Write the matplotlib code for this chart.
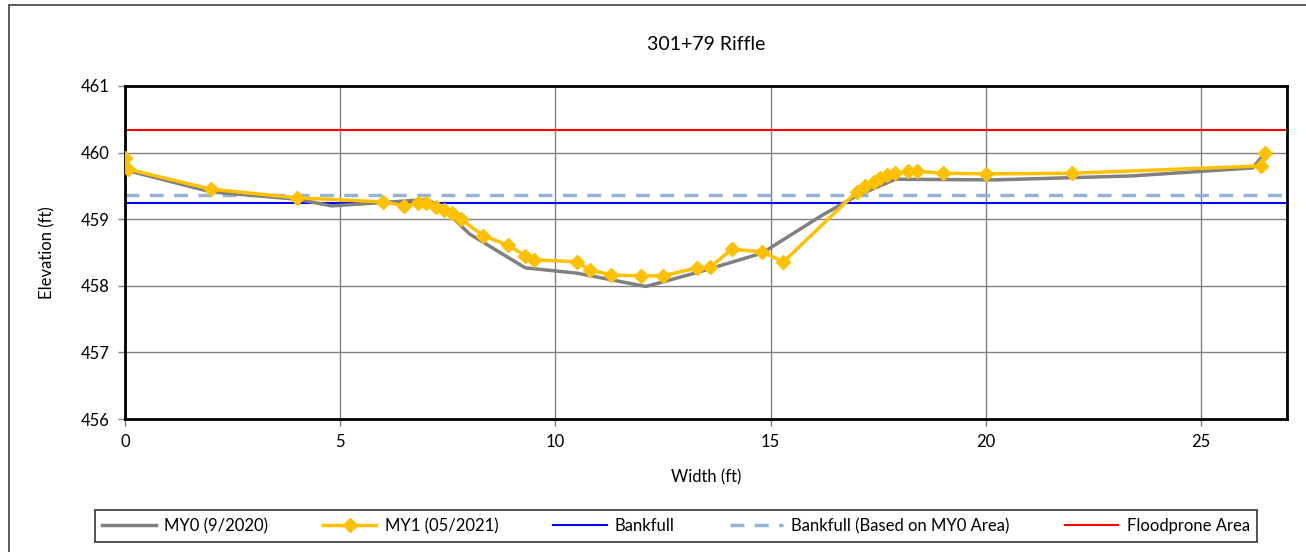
import matplotlib
matplotlib.use('Agg')
import matplotlib.pyplot as plt
from matplotlib.patches import Rectangle

plt.rcParams['font.family'] = ['Lato', 'DejaVu Sans']

# MY0 survey (9/2020)
my0_x = [0, 2.0, 4.0, 4.8, 6.9, 7.1, 7.5, 8.0, 9.3, 10.5, 12.1, 13.3, 14.8, 16.2, 17.0, 17.9, 20.2, 23.4, 26.2, 26.5]
my0_y = [459.74, 459.41, 459.3, 459.2, 459.29, 459.27, 459.1, 458.78, 458.27, 458.19, 457.99, 458.2, 458.49, 459.06,
         459.35, 459.6, 459.59, 459.65, 459.77, 460.0]

# MY1 survey (05/2021)
my1_x = [0, 0.07, 2.0, 4.0, 6.0, 6.49, 6.8, 7.0, 7.23, 7.42, 7.6, 7.8, 8.33, 8.9, 9.3, 9.5, 10.5, 10.8, 11.3, 12.0,
         12.5, 13.3, 13.6, 14.1, 14.8, 15.3, 17.0, 17.2, 17.4, 17.55, 17.7, 17.9, 18.2, 18.4, 19.0, 20.0, 22.0,
         26.4, 26.5]
my1_y = [459.92, 459.75, 459.45, 459.32, 459.26, 459.2, 459.24, 459.24, 459.18, 459.14, 459.09, 459.0, 458.75,
         458.61, 458.45, 458.39, 458.36, 458.24, 458.16, 458.15, 458.15, 458.27, 458.28, 458.55, 458.51, 458.36,
         459.41, 459.5, 459.56, 459.62, 459.66, 459.69, 459.72, 459.72, 459.69, 459.68, 459.69, 459.8, 460.0]

bankfull = 459.24
bankfull_my0 = 459.36
floodprone = 460.34

fig = plt.figure(figsize=(13.06, 5.52), dpi=100)
ax = fig.add_axes([125 / 1306, 1 - 419 / 552, (1287 - 125) / 1306, (419 - 86) / 552])

# outer chart frame
fig.patches.append(Rectangle((9 / 1306, -0.1), 1.2, 1 - 5 / 552 + 0.1, transform=fig.transFigure,
                             fill=False, edgecolor='#404040', linewidth=1.2))

ax.plot(my0_x, my0_y, color='#808080', linewidth=2.5, label='MY0 (9/2020)', zorder=3)
ax.plot(my1_x, my1_y, color='#FFC000', linewidth=2.5, marker='D', markersize=7, label='MY1 (05/2021)', zorder=4)
ax.axhline(bankfull, color='#0000FF', linewidth=1.5, label='Bankfull', zorder=2)
ax.axhline(bankfull_my0, color='#95B3D7', linewidth=2.5, linestyle=(0, (4, 3)),
           label='Bankfull (Based on MY0 Area)', zorder=2)
ax.axhline(floodprone, color='#FF0000', linewidth=1.5, label='Floodprone Area', zorder=2)

ax.set_xlim(0, 27)
ax.set_ylim(456, 461)
ax.set_xticks([0, 5, 10, 15, 20, 25])
ax.set_yticks([456, 457, 458, 459, 460, 461])
ax.grid(True, color='#808080', linewidth=1)
ax.set_axisbelow(True)
for s in ax.spines.values():
    s.set_linewidth(2)
    s.set_color('black')
ax.tick_params(direction='out', length=5, width=1, color='#808080', labelsize=12, pad=6)

ax.set_title('301+79 Riffle', fontsize=14, pad=26)
ax.set_xlabel('Width (ft)', fontsize=12, labelpad=14)
ax.set_ylabel('Elevation (ft)', fontsize=12, labelpad=18)

leg = fig.legend(loc='center', bbox_to_anchor=(676 / 1306, 1 - 526 / 552), ncol=5, fontsize=12,
                 frameon=True, fancybox=False, edgecolor='black', handlelength=3.2, columnspacing=3.3,
                 borderpad=0.45, handletextpad=0.5)
leg.get_frame().set_linewidth(1.2)

fig.savefig('out.png', dpi=100)
